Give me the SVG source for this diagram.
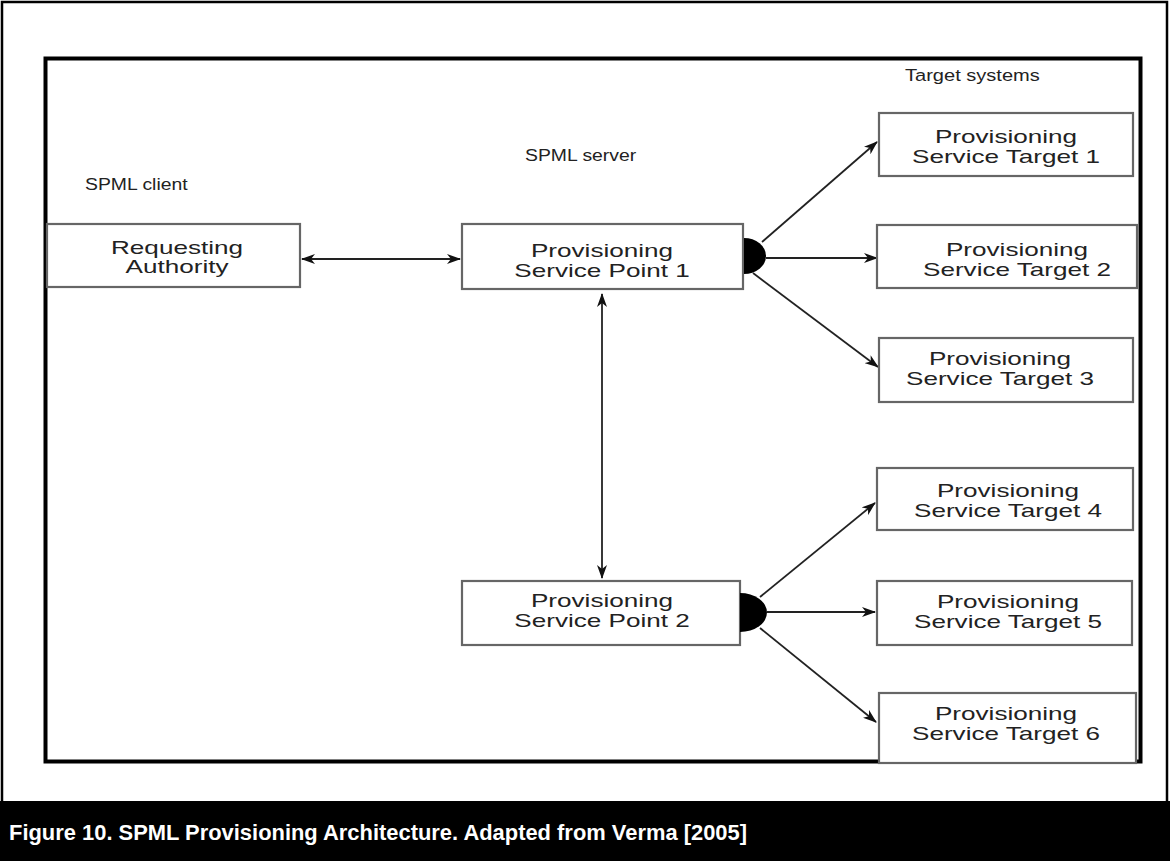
<svg xmlns="http://www.w3.org/2000/svg" width="1170" height="861" viewBox="0 0 1170 861">
<defs>
<marker id="ah" viewBox="0 0 14 10" refX="13" refY="5" markerWidth="14" markerHeight="10" markerUnits="userSpaceOnUse" orient="auto-start-reverse">
<path d="M0,0 L14,5 L0,10 L4,5 z" fill="#111"/>
</marker>
<style>
.box{fill:#fff;stroke:#666;stroke-width:2.2}
.t{font-family:"Liberation Sans",Arial,sans-serif;font-size:18px;fill:#222;text-anchor:middle}
.l{font-family:"Liberation Sans",Arial,sans-serif;font-size:17px;fill:#222}
.c{stroke:#222;stroke-width:1.8;fill:none}
.arr{marker-end:url(#ah)}
.bi{marker-start:url(#ah);marker-end:url(#ah)}
</style>
</defs>
<rect x="0" y="0" width="1170" height="861" fill="#fff"/>
<rect x="2" y="2" width="1165" height="810" fill="none" stroke="#000" stroke-width="2.5"/>
<rect x="0" y="801" width="1170" height="60" fill="#000"/>
<text x="9" y="840" font-family="Liberation Sans, Arial, sans-serif" font-weight="bold" font-size="22" fill="#fff" textLength="738" lengthAdjust="spacingAndGlyphs">Figure 10. SPML Provisioning Architecture. Adapted from Verma [2005]</text>
<rect x="45.5" y="58.5" width="1095" height="703" fill="none" stroke="#000" stroke-width="4"/>

<g id="labels">
<text class="l" transform="translate(85,190) scale(1.14,1)">SPML client</text>
<text class="l" transform="translate(525,161) scale(1.14,1)">SPML server</text>
<text class="l" transform="translate(905,81) scale(1.18,1)">Target systems</text>
</g>

<g id="connectors">
<line class="c bi" x1="302" y1="259" x2="460" y2="259"/>
<line class="c bi" x1="602" y1="294" x2="602" y2="578"/>
<line class="c arr" x1="762" y1="242" x2="877" y2="142"/>
<line class="c arr" x1="766" y1="258" x2="877" y2="258"/>
<line class="c arr" x1="753" y1="273" x2="878" y2="367"/>
<line class="c arr" x1="760" y1="597" x2="875" y2="503"/>
<line class="c arr" x1="767" y1="612" x2="875" y2="612"/>
<line class="c arr" x1="760" y1="628" x2="876" y2="722"/>
</g>

<g id="requesting-authority">
<rect class="box" x="47" y="224" width="253" height="63"/>
<text class="t" transform="translate(177,254) scale(1.45,1)">Requesting</text>
<text class="t" transform="translate(177,273) scale(1.45,1)">Authority</text>
</g>

<g id="psp1">
<rect class="box" x="462" y="224" width="281" height="65"/>
<path d="M744,238 A22,18 0 0 1 744,274 Z" fill="#000"/>
<text class="t" transform="translate(602,257) scale(1.45,1)">Provisioning</text>
<text class="t" transform="translate(602,277) scale(1.45,1)">Service Point 1</text>
</g>

<g id="psp2">
<rect class="box" x="462" y="581" width="278" height="64"/>
<path d="M740,593 A27,19.5 0 0 1 740,632 Z" fill="#000"/>
<text class="t" transform="translate(602,607) scale(1.45,1)">Provisioning</text>
<text class="t" transform="translate(602,627) scale(1.45,1)">Service Point 2</text>
</g>

<g id="pst1">
<rect class="box" x="879" y="113" width="254" height="63"/>
<text class="t" transform="translate(1006,143) scale(1.45,1)">Provisioning</text>
<text class="t" transform="translate(1006,163) scale(1.45,1)">Service Target 1</text>
</g>

<g id="pst2">
<rect class="box" x="877" y="225" width="260" height="63"/>
<text class="t" transform="translate(1017,256) scale(1.45,1)">Provisioning</text>
<text class="t" transform="translate(1017,276) scale(1.45,1)">Service Target 2</text>
</g>

<g id="pst3">
<rect class="box" x="879" y="338" width="254" height="64"/>
<text class="t" transform="translate(1000,365) scale(1.45,1)">Provisioning</text>
<text class="t" transform="translate(1000,385) scale(1.45,1)">Service Target 3</text>
</g>

<g id="pst4">
<rect class="box" x="877" y="468" width="256" height="62"/>
<text class="t" transform="translate(1008,497) scale(1.45,1)">Provisioning</text>
<text class="t" transform="translate(1008,517) scale(1.45,1)">Service Target 4</text>
</g>

<g id="pst5">
<rect class="box" x="877" y="581" width="255" height="64"/>
<text class="t" transform="translate(1008,608) scale(1.45,1)">Provisioning</text>
<text class="t" transform="translate(1008,628) scale(1.45,1)">Service Target 5</text>
</g>

<g id="pst6">
<rect class="box" x="879" y="693" width="257" height="70"/>
<text class="t" transform="translate(1006,720) scale(1.45,1)">Provisioning</text>
<text class="t" transform="translate(1006,740) scale(1.45,1)">Service Target 6</text>
</g>
</svg>
